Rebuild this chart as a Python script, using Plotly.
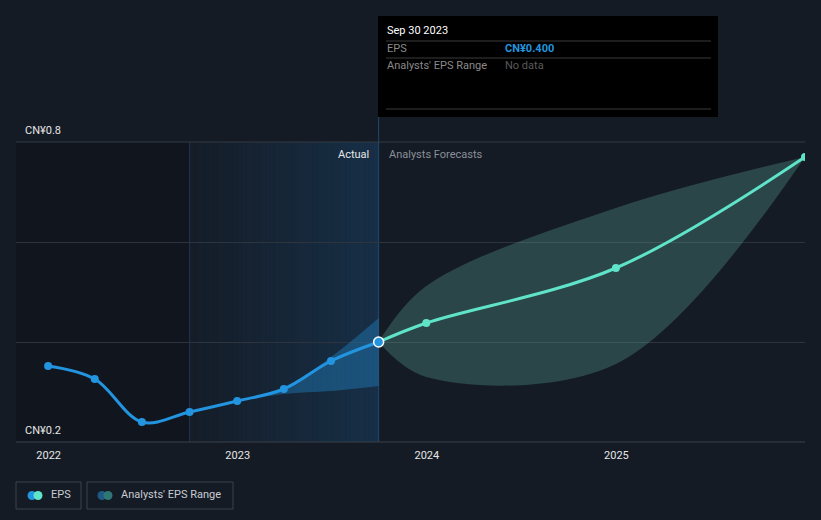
import plotly.graph_objects as go
import pandas as pd
import numpy as np

# ---- data ----
actual_dates = ["2021-12-31", "2022-03-31", "2022-06-30", "2022-09-30",
                "2022-12-31", "2023-03-31", "2023-06-30", "2023-09-30"]
actual_eps = [0.352, 0.326, 0.240, 0.260, 0.282, 0.306, 0.362, 0.400]

past_range_dates = ["2022-12-31", "2023-03-31", "2023-06-30", "2023-09-30"]
past_range_low = [0.282, 0.296, 0.302, 0.312]
past_range_high = [0.282, 0.310, 0.370, 0.448]

fc_dates = ["2023-09-30", "2023-12-31", "2024-12-31", "2025-12-31"]
fc_eps = [0.400, 0.438, 0.548, 0.770]
fc_low = [0.400, 0.330, 0.356, 0.770]
fc_high = [0.400, 0.512, 0.668, 0.770]

year_ticks = ["2022-01-01", "2023-01-01", "2024-01-01", "2025-01-01"]
year_labels = ["2022", "2023", "2024", "2025"]
y_labels = {0.8: "CN¥0.8", 0.2: "CN¥0.2"}
grid_values = [0.2, 0.4, 0.6, 0.8]

BG = "#151b25"
BLUE = "#2394df"
TEAL = "#5fe3c9"
W, H = 821, 520
ML, MR, MT, MB = 16, 16, 142, 78
PW, PH = W - ML - MR, H - MT - MB

def px(xp):
    return (xp - ML) / PW

def py(yp):
    return (H - MB - yp) / PH

fig = go.Figure()

# past analyst range (blue band)
fig.add_trace(go.Scatter(x=past_range_dates, y=past_range_low, mode="lines",
                         line=dict(width=0, shape="spline"), hoverinfo="skip", showlegend=False))
fig.add_trace(go.Scatter(x=past_range_dates, y=past_range_high, mode="lines",
                         line=dict(width=0, shape="spline"), fill="tonexty",
                         fillcolor="rgba(35,148,223,0.35)", hoverinfo="skip", showlegend=False))

# forecast range
fig.add_trace(go.Scatter(x=fc_dates, y=fc_low, mode="lines",
                         line=dict(width=0, shape="spline", smoothing=1.0), hoverinfo="skip", showlegend=False))
fig.add_trace(go.Scatter(x=fc_dates, y=fc_high, mode="lines",
                         line=dict(width=0, shape="spline", smoothing=1.0), fill="tonexty",
                         fillcolor="rgba(98,183,167,0.28)", hoverinfo="skip", showlegend=False))

# forecast line
fig.add_trace(go.Scatter(x=fc_dates[1:], y=fc_eps[1:], mode="markers",
                         marker=dict(color=TEAL, size=8), hoverinfo="skip", showlegend=False))
fig.add_trace(go.Scatter(x=fc_dates, y=fc_eps, mode="lines",
                         line=dict(color=TEAL, width=3, shape="spline"), hoverinfo="skip", showlegend=False))

# actual line
fig.add_trace(go.Scatter(x=actual_dates, y=actual_eps, mode="lines+markers",
                         line=dict(color=BLUE, width=3, shape="spline", smoothing=1.0),
                         marker=dict(color=BLUE, size=8), hoverinfo="skip", showlegend=False))
fig.add_trace(go.Scatter(x=[actual_dates[-1]], y=[actual_eps[-1]], mode="markers",
                         marker=dict(color=BLUE, size=10, line=dict(color="white", width=1.5)),
                         hoverinfo="skip", showlegend=False))

shapes = []
last = pd.Timestamp(actual_dates[-1])
start_shade = last - pd.DateOffset(years=1)
x_start = pd.Timestamp("2021-10-30")
x_end = pd.Timestamp("2025-12-31")

# darker past region
shapes.append(dict(type="rect", xref="x", yref="paper", x0=x_start, x1=start_shade, y0=0, y1=1,
                   fillcolor="rgba(0,0,0,0.18)", line=dict(width=0), layer="below"))
# gradient region
n = 40
edges = pd.date_range(start_shade, last, periods=n + 1)
for i in range(n):
    a = 0.03 + 0.25 * (i + 0.5) / n
    shapes.append(dict(type="rect", xref="x", yref="paper", x0=edges[i], x1=edges[i + 1], y0=0, y1=1,
                       fillcolor=f"rgba(30,100,160,{a:.3f})", line=dict(width=0), layer="below"))
shapes.append(dict(type="line", xref="x", yref="paper", x0=start_shade, x1=start_shade, y0=0, y1=1,
                   line=dict(color="rgba(40,80,120,0.5)", width=1), layer="below"))
shapes.append(dict(type="line", xref="x", yref="paper", x0=last, x1=last, y0=0, y1=py(117),
                   line=dict(color="#1f4a6e", width=1), layer="below"))
# edge gridlines
for yp, col in [(0, "#3a4049"), (1, "#343a43")]:
    shapes.append(dict(type="line", xref="paper", yref="paper", x0=0, x1=1, y0=yp, y1=yp,
                       line=dict(color=col, width=1), layer="above"))

# tooltip box
shapes.append(dict(type="rect", xref="paper", yref="paper", x0=px(378), x1=px(718), y0=py(117), y1=py(16),
                   fillcolor="#000000", line=dict(width=0), layer="above"))
for yy in [41, 58, 109]:
    shapes.append(dict(type="line", xref="paper", yref="paper", x0=px(386), x1=px(711), y0=py(yy), y1=py(yy),
                       line=dict(color="#3a3a3a", width=1), layer="above"))

# legend boxes
for x0, x1 in [(16, 81), (87, 233)]:
    shapes.append(dict(type="rect", xref="paper", yref="paper", x0=px(x0), x1=px(x1), y0=py(509), y1=py(482),
                       fillcolor="rgba(0,0,0,0)", line=dict(color="#3c424c", width=1), layer="above"))
for cx, col in [(32, BLUE), (38, TEAL), (102, "#1f5a85"), (108, "#2f7774")]:
    shapes.append(dict(type="circle", xref="paper", yref="paper", x0=px(cx - 4.5), x1=px(cx + 4.5),
                       y0=py(500), y1=py(491), fillcolor=col, line=dict(width=0), layer="above"))

annotations = []
for v, t in y_labels.items():
    annotations.append(dict(xref="paper", yref="y", x=px(23), y=v, text=t, showarrow=False,
                            xanchor="left", yanchor="middle", yshift=12,
                            font=dict(color="#e6e6e6", size=11)))
annotations.append(dict(xref="x", yref="paper", x=last, y=py(154), text="Actual", showarrow=False,
                        xanchor="right", yanchor="middle", xshift=-8, font=dict(color="#e6e6e6", size=11)))
annotations.append(dict(xref="x", yref="paper", x=last, y=py(154), text="Analysts Forecasts", showarrow=False,
                        xanchor="left", yanchor="middle", xshift=8, font=dict(color="#8a8f98", size=11)))

def txt(x, y, t, col, size=11):
    annotations.append(dict(xref="paper", yref="paper", x=px(x), y=py(y), text=t, showarrow=False,
                            xanchor="left", yanchor="middle", font=dict(color=col, size=size)))

txt(385, 31, "Sep 30 2023", "#ffffff", 11)
txt(385, 49, "EPS", "#8a8a8a")
txt(503, 49, f"<b>CN¥{actual_eps[-1]:.3f}</b>", BLUE)
txt(385, 66, "Analysts' EPS Range", "#8a8a8a")
txt(503, 66, "No data", "#5a5a5a")
txt(49, 494.5, "EPS", "#c8ccd2")
txt(119, 494.5, "Analysts' EPS Range", "#c8ccd2")

fig.update_layout(
    width=W, height=H,
    margin=dict(l=ML, r=MR, t=MT, b=MB),
    paper_bgcolor=BG, plot_bgcolor=BG,
    font=dict(family="Roboto, 'Open Sans', sans-serif", color="#e6e6e6", size=11),
    shapes=shapes, annotations=annotations,
    showlegend=False, hovermode=False,
    xaxis=dict(range=[x_start, x_end], tickvals=year_ticks, ticktext=year_labels,
               showgrid=False, zeroline=False, showline=False, ticks="",
               ticklabelstandoff=5,
               tickfont=dict(color="#e6e6e6", size=11), fixedrange=True),
    yaxis=dict(range=[0.2, 0.8], tickvals=grid_values, showticklabels=False,
               showgrid=True, gridcolor="#2e343d", gridwidth=1, zeroline=False, showline=False,
               fixedrange=True),
)

fig.write_html("out.html")
